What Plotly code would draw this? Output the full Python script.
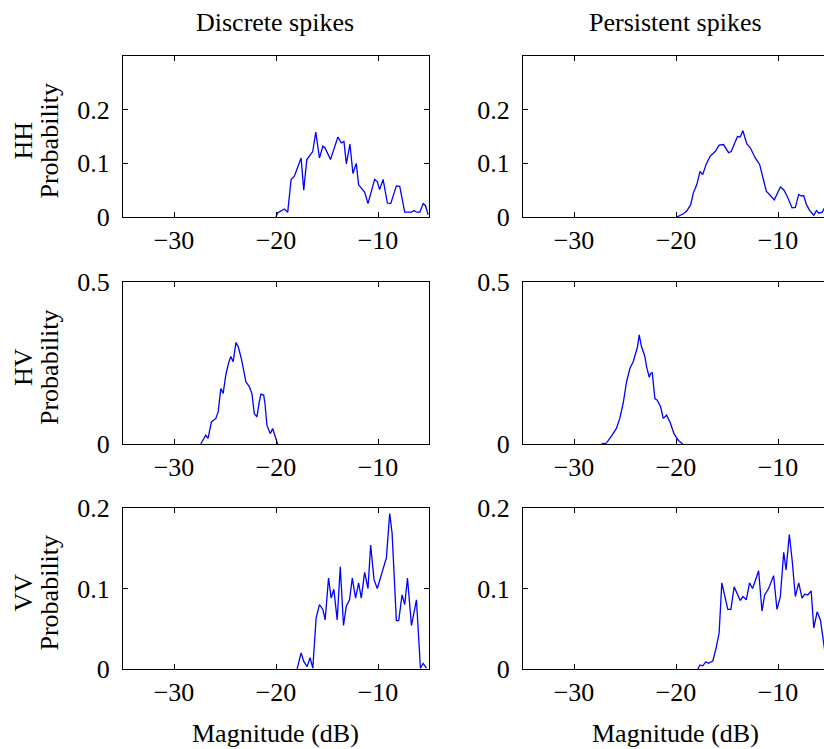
import plotly.graph_objects as go

# ---------------- data ----------------
hh_disc_x = [-20.0, -19.85, -19.18, -18.85, -18.52, -18.2, -17.54, -17.28, -16.98, -16.4, -16.1, -15.74,
             -15.4, -15.2, -14.66, -14.26, -13.93, -13.6, -13.34, -13.1, -12.75, -12.46, -12.13, -11.9,
             -11.3, -10.98, -10.33, -10.07, -9.84, -9.5, -9.08, -8.75, -8.2, -7.87, -7.38, -6.72, -6.46,
             -6.23, -5.9, -5.57, -5.34, -5.08]
hh_disc_y = [0.0, 0.0075, 0.015, 0.009, 0.07, 0.076, 0.11, 0.05, 0.107, 0.122, 0.158, 0.11,
             0.132, 0.129, 0.107, 0.132, 0.149, 0.138, 0.141, 0.099, 0.136, 0.081, 0.1, 0.06,
             0.046, 0.025, 0.07, 0.066, 0.051, 0.07, 0.026, 0.025, 0.058, 0.057, 0.009, 0.009, 0.012,
             0.009, 0.009, 0.025, 0.021, 0.004]

hh_pers_x = [-19.93, -19.28, -18.95, -18.56, -18.3, -17.97, -17.64, -17.38, -17.05, -16.66, -16.16, -15.77,
             -15.34, -14.85, -14.59, -13.97, -13.7, -13.44, -13.28, -13.05, -12.72, -12.23, -11.8, -11.48,
             -11.15, -10.75, -10.36, -9.77, -9.44, -9.11, -8.62, -8.3, -7.97, -7.7, -7.48, -7.21, -6.89,
             -6.49, -6.23, -6.0, -5.67, -5.44, -5.2, -5.0]
hh_pers_y = [0.0, 0.006, 0.011, 0.023, 0.045, 0.06, 0.085, 0.079, 0.098, 0.113, 0.122, 0.134,
             0.135, 0.12, 0.122, 0.15, 0.149, 0.161, 0.15, 0.136, 0.129, 0.11, 0.098, 0.073,
             0.048, 0.04, 0.032, 0.056, 0.051, 0.039, 0.017, 0.018, 0.042, 0.039, 0.04, 0.023, 0.012,
             0.003, 0.012, 0.007, 0.009, 0.017, 0.015, 0.01]

hv_disc_x = [-27.38, -27.11, -26.89, -26.66, -26.33, -25.9, -25.67, -25.41, -25.18, -24.92, -24.66, -24.43,
             -24.2, -23.93, -23.7, -23.38, -23.18, -22.95, -22.62, -22.36, -22.13, -21.87, -21.64, -21.48,
             -21.21, -21.08, -20.89, -20.56, -20.33, -20.1, -19.84]
hv_disc_y = [0.0, 0.013, 0.027, 0.017, 0.068, 0.079, 0.099, 0.171, 0.156, 0.213, 0.249, 0.27,
             0.254, 0.313, 0.3, 0.261, 0.228, 0.192, 0.177, 0.156, 0.094, 0.084, 0.13, 0.154,
             0.151, 0.125, 0.058, 0.032, 0.048, 0.022, 0.0]

hv_pers_x = [-27.31, -26.82, -26.33, -25.84, -25.51, -25.18, -24.85, -24.52, -24.2, -23.93, -23.77, -23.61,
             -23.38, -23.05, -22.89, -22.62, -22.49, -22.33, -22.07, -21.84, -21.51, -21.25, -20.92, -20.59,
             -20.2, -19.77, -19.34]
hv_pers_y = [0.0, 0.003, 0.024, 0.048, 0.079, 0.125, 0.192, 0.233, 0.254, 0.28, 0.3, 0.337,
             0.3, 0.27, 0.239, 0.206, 0.218, 0.22, 0.14, 0.135, 0.115, 0.079, 0.089, 0.068,
             0.032, 0.011, 0.0]

vv_disc_x = [-17.93, -17.54, -17.28, -16.95, -16.66, -16.39, -16.07, -15.74, -15.41, -15.18, -14.85, -14.59,
             -14.33, -14.0, -13.7, -13.38, -13.11, -12.79, -12.52, -12.2, -11.9, -11.64, -11.31, -10.98,
             -10.72, -10.39, -10.07, -9.18, -8.85, -8.62, -8.2, -7.97, -7.64, -7.38, -7.11, -6.72,
             -6.23, -5.84, -5.57, -5.25]
vv_disc_y = [0.0, 0.02, 0.0095, 0.003, 0.014, 0.001, 0.063, 0.08, 0.074, 0.061, 0.113, 0.088,
             0.099, 0.061, 0.127, 0.054, 0.078, 0.086, 0.113, 0.088, 0.107, 0.088, 0.12, 0.1,
             0.154, 0.111, 0.1, 0.138, 0.193, 0.169, 0.06, 0.06, 0.092, 0.08, 0.113, 0.054,
             0.086, 0.001, 0.007, 0.001]

vv_pers_x = [-17.87, -17.64, -17.38, -17.08, -16.82, -16.39, -16.07, -15.77, -15.51, -14.92, -14.62, -14.3,
             -13.7, -13.44, -13.11, -12.79, -12.49, -11.9, -11.57, -11.31, -10.92, -10.43, -10.1, -9.77,
             -9.44, -9.21, -8.89, -8.62, -8.3, -7.97, -7.64, -7.38, -7.08, -6.75, -6.49, -6.16,
             -5.84, -5.44, -5.2]
vv_pers_y = [0.0, 0.005, 0.004, 0.009, 0.007, 0.01, 0.026, 0.045, 0.107, 0.074, 0.074, 0.102,
             0.085, 0.09, 0.086, 0.107, 0.1, 0.122, 0.072, 0.092, 0.1, 0.116, 0.074, 0.09,
             0.145, 0.123, 0.167, 0.136, 0.09, 0.107, 0.088, 0.093, 0.092, 0.097, 0.051, 0.071,
             0.061, 0.02, 0.003]

col_titles = ["Discrete spikes", "Persistent spikes"]
row_names = ["HH", "HV", "VV"]
x_label = "Magnitude (dB)"
y_label = "Probability"
x_tickvals = [-30, -20, -10]
x_ticktext = ["\u221230", "\u221220", "\u221210"]
y_ranges = [[0, 0.3], [0, 0.5], [0, 0.2]]
y_tickvals = [[0, 0.1, 0.2], [0, 0.5], [0, 0.1, 0.2]]
y_ticktext = [["0", "0.1", "0.2"], ["0", "0.5"], ["0", "0.1", "0.2"]]

series = [
    [(hh_disc_x, hh_disc_y), (hh_pers_x, hh_pers_y)],
    [(hv_disc_x, hv_disc_y), (hv_pers_x, hv_pers_y)],
    [(vv_disc_x, vv_disc_y), (vv_pers_x, vv_pers_y)],
]

# ---------------- layout geometry ----------------
W, H = 824, 749
FONT = "Liberation Serif, Times New Roman, serif"
FS = 26
col_px = [(123, 429), (523, 824)]
col_xrange = [[-35, -5], [-35, -5 - (829 - 824) / 10.2]]
row_px = [(56, 217), (282, 444), (508, 669)]

fig = go.Figure()
layout = dict(
    template="none",
    width=W, height=H, margin=dict(l=0, r=0, t=0, b=0, pad=0),
    paper_bgcolor="white", plot_bgcolor="white", showlegend=False,
    font=dict(family=FONT, size=FS, color="black"),
)
annotations = []

k = 0
for r in range(3):
    for c in range(2):
        k += 1
        xs, ys = series[r][c]
        xa = "x" if k == 1 else f"x{k}"
        ya = "y" if k == 1 else f"y{k}"
        fig.add_trace(go.Scatter(x=xs, y=ys, mode="lines", xaxis=xa, yaxis=ya,
                                 line=dict(color="#0000ff", width=1.3), hoverinfo="skip"))
        x0, x1 = col_px[c]
        y0, y1 = row_px[r]
        layout["xaxis" if k == 1 else f"xaxis{k}"] = dict(
            domain=[x0 / W, x1 / W], anchor=ya, range=col_xrange[c], automargin=False,
            tickvals=x_tickvals, ticktext=x_ticktext, ticks="inside", ticklen=5,
            tickcolor="black", showline=True, linecolor="black", linewidth=1,
            mirror="ticks", showgrid=False, zeroline=False, ticklabelstandoff=0,
            tickfont=dict(family=FONT, size=FS),
        )
        layout["yaxis" if k == 1 else f"yaxis{k}"] = dict(
            domain=[1 - y1 / H, 1 - y0 / H], anchor=xa, range=y_ranges[r], automargin=False,
            tickvals=y_tickvals[r], ticktext=y_ticktext[r], ticks="inside", ticklen=5,
            tickcolor="black", showline=True, linecolor="black", linewidth=1,
            mirror=("ticks" if c == 0 else False), showgrid=False, zeroline=False,
            ticklabelstandoff=7, tickfont=dict(family=FONT, size=FS),
        )

# column titles and x labels
for c in range(2):
    cx = [275 / W, 675 / W][c]
    annotations.append(dict(text=col_titles[c], x=cx, y=1 - 22 / H, xref="paper", yref="paper",
                            showarrow=False, xanchor="center", yanchor="middle",
                            font=dict(family=FONT, size=FS)))
    annotations.append(dict(text=x_label, x=cx, y=1 - 733 / H, xref="paper", yref="paper",
                            showarrow=False, xanchor="center", yanchor="middle",
                            font=dict(family=FONT, size=FS)))

# row labels
for r in range(3):
    cy = (row_px[r][0] + row_px[r][1]) / 2 + 4
    annotations.append(dict(text=row_names[r], x=23 / W, y=1 - cy / H, xref="paper", yref="paper",
                            showarrow=False, xanchor="center", yanchor="middle", textangle=-90,
                            font=dict(family=FONT, size=FS)))
    annotations.append(dict(text=y_label, x=49 / W, y=1 - cy / H, xref="paper", yref="paper",
                            showarrow=False, xanchor="center", yanchor="middle", textangle=-90,
                            font=dict(family=FONT, size=FS)))

layout["annotations"] = annotations
fig.update_layout(**layout)
fig.write_html("out.html")
